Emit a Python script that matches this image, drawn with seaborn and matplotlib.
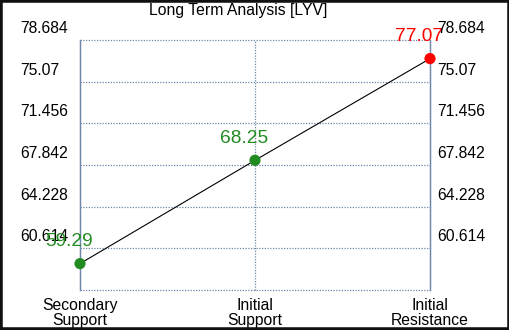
import matplotlib
matplotlib.use("Agg")
import matplotlib.pyplot as plt
import matplotlib.transforms as mtransforms
from matplotlib.patches import Rectangle
import seaborn as sns
import pandas as pd

categories = ["Secondary\nSupport", "Initial\nSupport", "Initial\nResistance"]
values = [59.29, 68.25, 77.07]
point_colors = ["#228B22", "#228B22", "#FF0000"]
value_labels = ["59.29", "68.25", "77.07"]
y_ticks = [57.0, 60.614, 64.228, 67.842, 71.456, 75.07, 78.684]
y_tick_labels = ["", "60.614", "64.228", "67.842", "71.456", "75.07", "78.684"]
title = "Long Term Analysis [LYV]"

sns.set_style("white")
plt.rcParams["font.family"] = ["Liberation Sans", "DejaVu Sans"]
plt.rcParams["text.color"] = "black"
plt.rcParams["xtick.color"] = "black"
plt.rcParams["ytick.color"] = "black"

W, H, DPI = 510, 330, 100
fig = plt.figure(figsize=(W / DPI, H / DPI), dpi=DPI)
ax = fig.add_axes([80 / W, (H - 290) / H, 350 / W, 250 / H])

df = pd.DataFrame({"x": list(range(len(categories))), "y": values, "c": point_colors})
sns.lineplot(data=df, x="x", y="y", ax=ax, color="black", linewidth=0.8, zorder=3)
sns.scatterplot(data=df, x="x", y="y", hue="c", palette={c: c for c in point_colors},
                ax=ax, s=65, edgecolor="none", legend=False, zorder=4, clip_on=False)

ax.set_xlim(0, len(categories) - 1)
ax.set_ylim(y_ticks[0], y_ticks[-1])
ax.set_xticks(range(len(categories)))
ax.set_xticklabels(categories, fontsize=11.3, linespacing=0.95, color="black")
ax.set_yticks(y_ticks)
ax.set_yticklabels(y_tick_labels, fontsize=11.3, color="black")
ax.set_xlabel("")
ax.set_ylabel("")

grid_color = "#6F87A8"
ax.grid(True, color=grid_color, linestyle=(0, (1, 1.2)), linewidth=0.9)
for gl in ax.get_ygridlines() + ax.get_xgridlines():
    gl.set_clip_on(False)
for s in ["top", "bottom"]:
    ax.spines[s].set_visible(False)
for s in ["left", "right"]:
    ax.spines[s].set_color(grid_color)
    ax.spines[s].set_linewidth(1.0)

ax.tick_params(axis="x", length=0, pad=6)
ax.tick_params(axis="y", length=0, pad=43.2, labelleft=True, labelright=False)

off = mtransforms.ScaledTranslation(0, 13 / DPI, fig.dpi_scale_trans)
for lab in ax.get_yticklabels():
    lab.set_horizontalalignment("left")
    lab.set_transform(lab.get_transform() + off)

ax2 = ax.twinx()
ax2.set_ylim(ax.get_ylim())
ax2.set_yticks(y_ticks)
ax2.set_yticklabels(y_tick_labels, fontsize=11.3, color="black")
ax2.tick_params(axis="y", length=0, pad=5)
for s in ax2.spines.values():
    s.set_visible(False)
for lab in ax2.get_yticklabels():
    lab.set_transform(lab.get_transform() + off)

lab_off = mtransforms.ScaledTranslation(-11 / DPI, 22 / DPI, fig.dpi_scale_trans)
for i, (v, t, c) in enumerate(zip(values, value_labels, point_colors)):
    ax.text(i, v, t, color=c, fontsize=13.8, ha="center", va="center",
            transform=ax.transData + lab_off, zorder=5, clip_on=False)

fig.text(238 / W, 1 - 10 / H, title, fontsize=11.3, ha="center", va="center", color="black")

fig.patches.append(Rectangle((0, 0), 1, 1, transform=fig.transFigure, fill=False,
                             edgecolor="#111111", linewidth=4, zorder=10))

fig.savefig("out.png", dpi=DPI)
